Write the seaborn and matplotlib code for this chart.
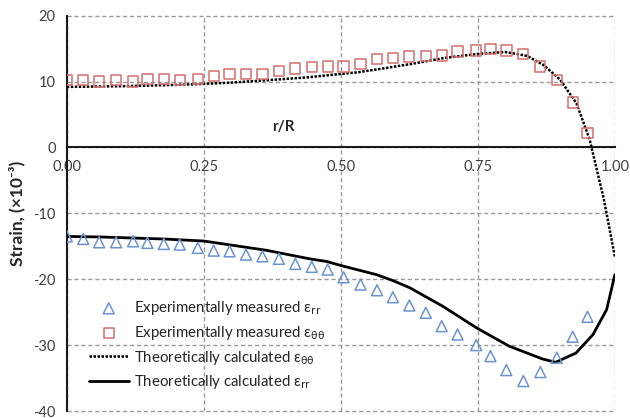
import seaborn as sns
import matplotlib.pyplot as plt
from matplotlib.ticker import MultipleLocator
import pandas as pd

# measured points (r/R positions shared by both measured series)
r_meas = [0, 0.03, 0.059, 0.09, 0.121, 0.147, 0.177, 0.206, 0.239, 0.268, 0.297,
          0.327, 0.357, 0.387, 0.417, 0.447, 0.476, 0.505, 0.536, 0.566, 0.595,
          0.625, 0.655, 0.684, 0.713, 0.747, 0.773, 0.802, 0.833, 0.864, 0.894,
          0.923, 0.95]
eps_rr_meas = [-13.48, -13.88, -14.39, -14.39, -14.24, -14.48, -14.64, -14.74,
               -15.24, -15.65, -15.76, -16.26, -16.52, -16.9, -17.67, -18.12,
               -18.53, -19.7, -20.8, -21.67, -22.73, -23.98, -25.09, -27.12,
               -28.38, -30.0, -31.67, -33.79, -35.45, -34.09, -31.91, -28.73, -25.7]
eps_tt_meas = [10.26, 10.26, 10.0, 10.26, 10.0, 10.4, 10.4, 10.26, 10.4, 10.85,
               11.15, 11.15, 11.15, 11.6, 11.97, 12.2, 12.27, 12.27, 12.68, 13.39,
               13.55, 13.79, 13.9, 13.94, 14.55, 14.7, 14.9, 14.7, 14.15, 12.27,
               10.26, 6.82, 2.18]

# theoretical curves
r_tt = [0, 0.1, 0.2, 0.25, 0.3, 0.39, 0.44, 0.48, 0.53, 0.57, 0.63, 0.69, 0.75,
        0.8, 0.84, 0.87, 0.9, 0.93, 0.954, 0.98, 1.0]
eps_tt_theo = [9.2, 9.3, 9.5, 9.65, 9.85, 10.35, 10.65, 11.0, 11.4, 11.9, 12.7,
               13.6, 14.2, 14.5, 13.9, 12.5, 10.3, 6.7, 1.2, -7.9, -16.6]
r_rr = [0, 0.06, 0.18, 0.25, 0.364, 0.443, 0.474, 0.504, 0.565, 0.595, 0.626,
        0.686, 0.748, 0.807, 0.868, 0.892, 0.929, 0.96, 0.985, 1.0]
eps_rr_theo = [-13.5, -13.58, -13.9, -14.2, -15.6, -16.9, -17.3, -18.0, -19.3,
               -20.2, -21.3, -24.1, -27.4, -30.15, -32.1, -32.6, -31.2, -28.4,
               -24.6, -19.3]

blue = '#6b93cf'
red = '#d36e6e'
grid_col = '#9a9a9a'

sns.set_style('white')
plt.rcParams['font.family'] = ['Lato', 'DejaVu Sans']
plt.rcParams['font.size'] = 10.5
plt.rcParams['axes.unicode_minus'] = False
plt.rcParams['mathtext.fontset'] = 'custom'
plt.rcParams['mathtext.rm'] = 'DejaVu Sans'

meas = pd.DataFrame({'r': r_meas, 'rr': eps_rr_meas, 'tt': eps_tt_meas})
theo_tt = pd.DataFrame({'r': r_tt, 'eps': eps_tt_theo})
theo_rr = pd.DataFrame({'r': r_rr, 'eps': eps_rr_theo})

fig = plt.figure(figsize=(6.3, 4.18), dpi=100)
ax = fig.add_axes([0.106, 0.0167, 0.87, 0.9457])

sns.scatterplot(data=meas, x='r', y='rr', ax=ax, marker='^', s=62,
                facecolor='none', edgecolor=blue, linewidth=1.1,
                label=r'Experimentally measured ε$_{\mathrm{rr}}$', zorder=4)
sns.scatterplot(data=meas, x='r', y='tt', ax=ax, marker='s', s=55,
                facecolor='none', edgecolor=red, linewidth=1.1,
                label=r'Experimentally measured ε$_{\mathrm{θθ}}$', zorder=4)
sns.lineplot(data=theo_tt, x='r', y='eps', ax=ax, color='black', lw=1.8,
             linestyle=(0, (1, 0.6)), estimator=None,
             label=r'Theoretically calculated ε$_{\mathrm{θθ}}$', zorder=3)
sns.lineplot(data=theo_rr, x='r', y='eps', ax=ax, color='black', lw=2.0,
             estimator=None,
             label=r'Theoretically calculated ε$_{\mathrm{rr}}$', zorder=3)

ax.set_xlim(0, 1)
ax.set_ylim(-40, 20)
ax.xaxis.set_major_locator(MultipleLocator(0.25))
ax.xaxis.set_minor_locator(MultipleLocator(0.05))
ax.yaxis.set_major_locator(MultipleLocator(10))
ax.xaxis.set_major_formatter(plt.FormatStrFormatter('%.2f'))

ax.grid(True, color=grid_col, linestyle=(0, (3, 2)), lw=1)
for gl in ax.get_xgridlines() + ax.get_ygridlines():
    gl.set_clip_on(False)

for side in ['top', 'right']:
    ax.spines[side].set_visible(False)
ax.spines['bottom'].set_position(('data', 0))
ax.spines['bottom'].set_linewidth(1.5)
ax.spines['left'].set_linewidth(1.5)
ax.spines['bottom'].set_color('#1a1a1a')
ax.spines['left'].set_color('#1a1a1a')

ax.tick_params(axis='x', which='both', direction='in', length=4, width=1.3,
               colors='#1a1a1a', labelcolor='#404040', pad=9, labelsize=10.5)
ax.tick_params(axis='y', which='major', direction='out', length=5, width=1.3,
               colors='#1a1a1a', labelcolor='#404040', pad=3, labelsize=10.5)

ax.set_xlabel('')
ax.set_ylabel('Strain, (×10⁻³)', fontweight='bold', fontsize=12.5,
              color='#262626', labelpad=6)
ax.text(0.395, 3.1, 'r/R', fontweight='bold', fontsize=11, color='#262626',
        ha='center', va='center')

ax.legend(loc='upper left', bbox_to_anchor=(0.015, 0.317), frameon=False,
          handlelength=2.7, handletextpad=0.3, labelspacing=0.45,
          fontsize=10.8, labelcolor='#262626')

fig.savefig('out.png', dpi=100)
